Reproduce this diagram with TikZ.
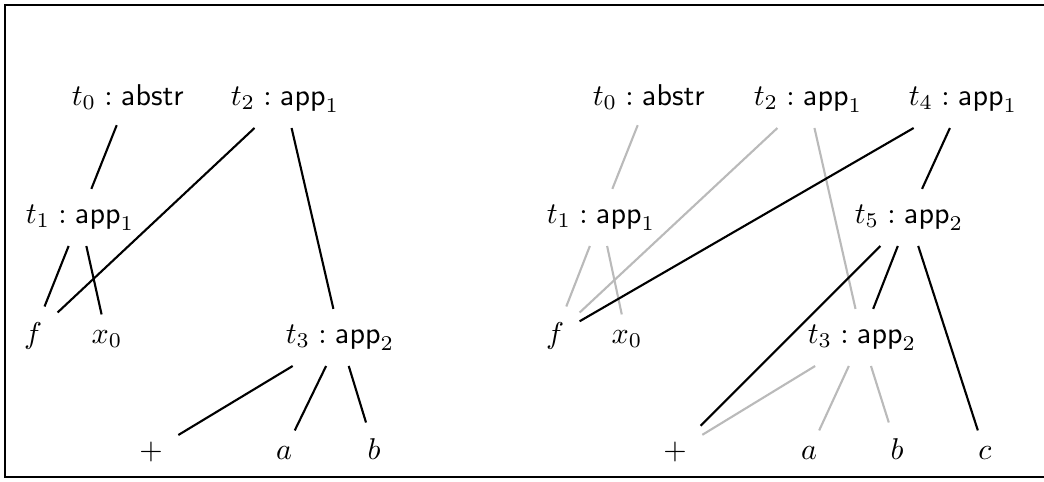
\documentclass[tikz,border=0pt]{standalone}
\usetikzlibrary{positioning}

\begin{document}
\begin{tikzpicture}[
  x=0.01cm,y=-0.01cm,
  term/.style={inner sep=5pt,anchor=base,scale=0.855,transform shape},
  link/.style={semithick},
  oldlink/.style={semithick,draw=black!27},
]
\useasboundingbox (0,0) rectangle (1044,481);

% Frame
\draw[thick] (1050,5) -- (5,5) -- (5,477) -- (1050,477);

% Left: term before the step
\node[term] (lt0) at (128,105) {$t_0 : \mathsf{abstr}$};
\node[term] (lt2) at (285,105) {$t_2 : \mathsf{app}_1$};
\node[term] (lt1) at (80,223) {$t_1 : \mathsf{app}_1$};
\node[term] (lf) at (33,343) {$f$};
\node[term] (lx0) at (107,343) {$x_0$};
\node[term] (lt3) at (340,343) {$t_3 : \mathsf{app}_2$};
\node[term] (lplus) at (151,459) {$+$};
\node[term] (la) at (284,459) {$a$};
\node[term] (lb) at (374,459) {$b$};

\draw[link] (lt0) -- (lt1);
\draw[link] (lt1) -- (lf);
\draw[link] (lt1) -- (lx0);
\draw[link] (lt2) -- (lf);
\draw[link] (lt2) -- (lt3);
\draw[link] (lt3) -- (lplus);
\draw[link] (lt3) -- (la);
\draw[link] (lt3) -- (lb);

% Right: term after the step
\node[term] (rt0) at (649,105) {$t_0 : \mathsf{abstr}$};
\node[term] (rt2) at (808,105) {$t_2 : \mathsf{app}_1$};
\node[term] (rt4) at (963,105) {$t_4 : \mathsf{app}_1$};
\node[term] (rt1) at (601,223) {$t_1 : \mathsf{app}_1$};
\node[term] (rt5) at (909,223) {$t_5 : \mathsf{app}_2$};
\node[term] (rf) at (555,343) {$f$};
\node[term] (rx0) at (627,343) {$x_0$};
\node[term] (rt3) at (862,343) {$t_3 : \mathsf{app}_2$};
\node[term] (rplus) at (675,459) {$+$};
\node[term] (ra) at (809,459) {$a$};
\node[term] (rb) at (897,459) {$b$};
\node[term] (rc) at (985,459) {$c$};

% old links in grey
\draw[oldlink] (rt0) -- (rt1);
\draw[oldlink] (rt1) -- (rf);
\draw[oldlink] (rt1) -- (rx0);
\draw[oldlink] (rt2) -- (rf);
\draw[oldlink] (rt2) -- (rt3);
\draw[oldlink] (rt3) -- (rplus);
\draw[oldlink] (rt3) -- (ra);
\draw[oldlink] (rt3) -- (rb);

% new links
\draw[link] (rt4) -- (rf);
\draw[link] (rt4) -- (rt5);
\draw[link] (rt5) -- (rplus);
\draw[link] (rt5) -- (rt3);
\draw[link] (rt5) -- (rc);

\end{tikzpicture}
\end{document}
